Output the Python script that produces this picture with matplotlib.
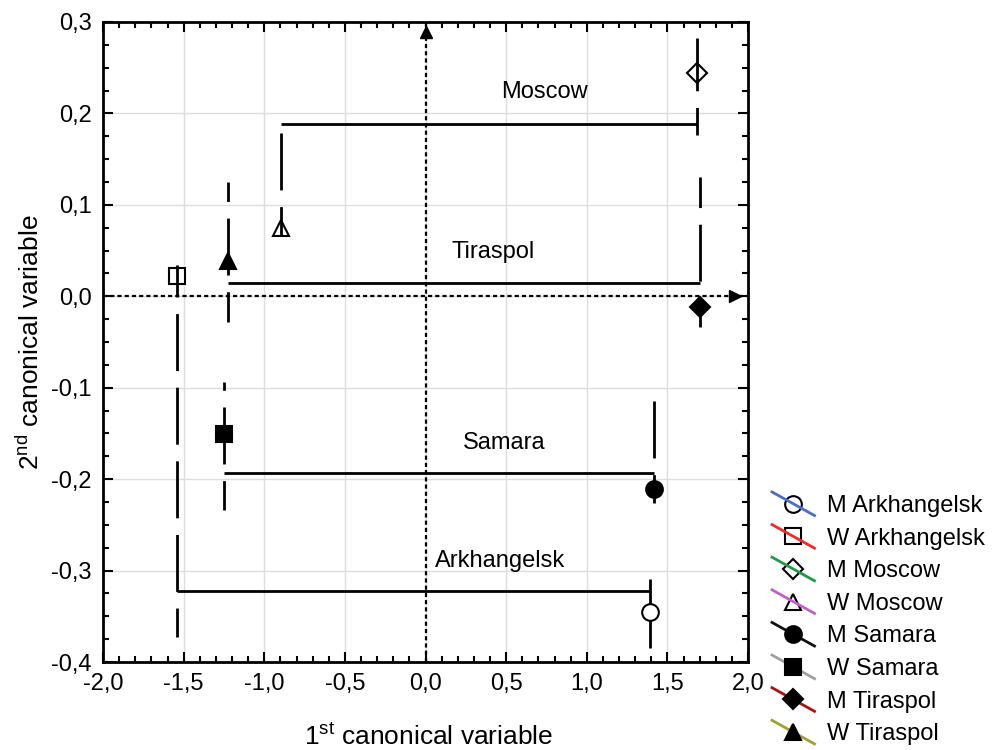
import matplotlib
matplotlib.use("Agg")
import matplotlib.pyplot as plt
from matplotlib.lines import Line2D
from matplotlib.legend_handler import HandlerBase
from matplotlib.ticker import MultipleLocator, FuncFormatter

plt.rcParams["font.family"] = ["Liberation Sans", "DejaVu Sans"]
plt.rcParams["lines.scale_dashes"] = False

# group means on the two canonical variables
labels = ["M Arkhangelsk", "W Arkhangelsk", "M Moscow", "W Moscow",
          "M Samara", "W Samara", "M Tiraspol", "W Tiraspol"]
can1 = [1.39, -1.54, 1.685, -0.895, 1.42, -1.25, 1.705, -1.225]
can2 = [-0.345, 0.022, 0.244, 0.075, -0.211, -0.151, -0.012, 0.039]
# vertical (dashed) spread lines through each mean
spread_top = [-0.309, 0.034, 0.283, 0.179, -0.114, -0.094, 0.130, 0.125]
spread_bot = [-0.385, -0.373, 0.176, 0.067, -0.226, -0.234, -0.034, -0.028]

# M-W brackets per city
cities = ["Arkhangelsk", "Moscow", "Samara", "Tiraspol"]
bracket_y = [-0.322, 0.188, -0.193, 0.014]
city_lx = [0.46, 0.74, 0.49, 0.42]
city_ly = [-0.290, 0.223, -0.161, 0.048]

# styles
markers = ["o", "s", "D", "^", "o", "s", "D", "^"]
filled = [False, False, False, False, True, True, True, True]
msizes = [12, 12, 10, 12, 12, 12, 10, 12]
leg_colors = ["#4a6fc8", "#ee2a2a", "#1f9a4a", "#c060c8",
              "#111111", "#a0a0a0", "#b01010", "#a0a030"]
dash_off = [23, 18, 3, 0, 0, 35, 19, 27]
DASH = (41, 12)


class DiagHandler(HandlerBase):
    def create_artists(self, legend, orig, xdescent, ydescent, width, height, fontsize, trans):
        x0, x1 = -xdescent, -xdescent + width
        yc = -ydescent + height / 2
        dy = 0.5 * fontsize
        ln = Line2D([x0, x1], [yc + dy, yc - dy], color=orig.get_color(), lw=2.0)
        mk = Line2D([(x0 + x1) / 2], [yc], ls="none", marker=orig.get_marker(),
                    markersize=orig.get_markersize(), markerfacecolor=orig.get_markerfacecolor(),
                    markeredgecolor="black", markeredgewidth=1.5)
        ln.set_transform(trans)
        mk.set_transform(trans)
        if orig.get_markerfacecolor() == "none":
            return [mk, ln]
        return [ln, mk]


fig = plt.figure(figsize=(9.99, 7.5), dpi=100)
ax = fig.add_axes([103 / 999, 1 - 662 / 750, 645 / 999, 640 / 750])
ax.set_xlim(-2, 2)
ax.set_ylim(-0.4, 0.3)

ax.grid(True, color="#dddddd", lw=1.0, zorder=0)
ax.set_axisbelow(True)

# dotted zero axes with arrow tips
ax.axhline(0, color="black", lw=1.6, ls=(0, (3, 2.2)), zorder=2)
ax.axvline(0, color="black", lw=1.6, ls=(0, (3, 2.2)), zorder=2)
ax.plot([1.92], [0], marker=">", ms=8, color="black", zorder=3)
ax.plot([0], [0.289], marker="^", ms=8, color="black", zorder=3)

# brackets
for i, city in enumerate(cities):
    m, w = 2 * i, 2 * i + 1
    ax.plot([can1[w], can1[m]], [bracket_y[i], bracket_y[i]], color="black", lw=2.0,
            solid_capstyle="butt", zorder=2)
    ax.text(city_lx[i], city_ly[i], city, ha="center", va="center", fontsize=17)

handles = []
for i, lab in enumerate(labels):
    fc = "black" if filled[i] else "white"
    ax.plot([can1[i]], [can2[i]], ls="none", marker=markers[i], ms=msizes[i],
            markerfacecolor=fc, markeredgecolor="black", markeredgewidth=1.5, zorder=3)
    ax.plot([can1[i], can1[i]], [spread_top[i], spread_bot[i]], color="black", lw=2.0,
            ls=(dash_off[i], DASH), dash_capstyle="butt", zorder=4)
    handles.append(Line2D([], [], color=leg_colors[i], marker=markers[i], ms=msizes[i],
                          markerfacecolor="black" if filled[i] else "none"))

fmt = FuncFormatter(lambda v, p: ("%.1f" % (0.0 if abs(v) < 1e-9 else v)).replace(".", ","))
ax.xaxis.set_major_locator(MultipleLocator(0.5))
ax.xaxis.set_minor_locator(MultipleLocator(0.1))
ax.yaxis.set_major_locator(MultipleLocator(0.1))
ax.yaxis.set_minor_locator(MultipleLocator(0.025))
ax.xaxis.set_major_formatter(fmt)
ax.yaxis.set_major_formatter(fmt)
ax.tick_params(which="both", direction="in", top=True, right=True, width=1.5, labelsize=17)
ax.tick_params(which="major", length=7, pad=8)
ax.tick_params(which="minor", length=4)
for s in ax.spines.values():
    s.set_linewidth(2.0)

ax.set_xlabel(r"1$^{\mathregular{st}}$ canonical variable", fontsize=19, va="center")
ax.set_ylabel(r"2$^{\mathregular{nd}}$ canonical variable", fontsize=19, va="center")
ax.xaxis.set_label_coords(0.505, -(737 - 662) / 640)
ax.yaxis.set_label_coords(-(103 - 30) / 645, 0.5)

fig.legend(handles, labels, handler_map={Line2D: DiagHandler()}, loc="upper left",
           bbox_to_anchor=(772 / 999, 1 - 495 / 750), frameon=False, fontsize=17,
           borderpad=0, borderaxespad=0, handlelength=1.8, handletextpad=0.55,
           labelspacing=0.45)

fig.savefig("out.png", dpi=100)
